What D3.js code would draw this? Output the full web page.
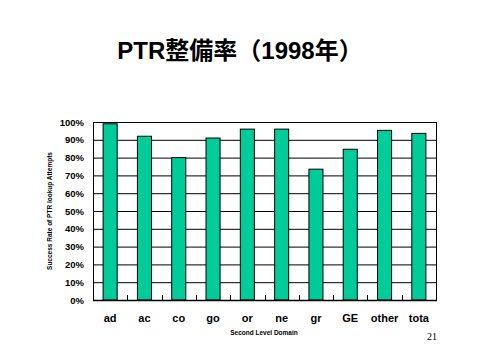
<!DOCTYPE html>
<html><head><meta charset="utf-8">
<script src="https://cdn.jsdelivr.net/npm/d3@7"></script>
<style>body{margin:0;background:#fff}</style>
</head><body>
<svg id="c" width="480" height="360"></svg>
<script>
const categories = ["ad","ac","co","go","or","ne","gr","GE","other","tota"];
const values = [0.99,0.92,0.80,0.91,0.96,0.96,0.735,0.847,0.953,0.936];
const yTicks = [0,0.1,0.2,0.3,0.4,0.5,0.6,0.7,0.8,0.9,1.0];

const svg = d3.select("#c");
svg.append("rect").attr("width",480).attr("height",360).attr("fill","#fff");
const L=93,R=436,T=122,B=300;
const x = d3.scaleBand().domain(categories).range([L,R]).paddingInner(0.59).paddingOuter(0.295);
const xb = d3.scaleBand().domain(categories).range([L,R]);
const y = d3.scaleLinear().domain([0,1]).range([B,T]);

svg.append("text").attr("x",240).attr("y",59).attr("text-anchor","middle")
  .attr("font-family","'Liberation Sans','Noto Sans CJK JP',sans-serif").attr("font-weight","bold")
  .attr("font-size",24).text("PTR整備率（1998年）");

// gridlines
svg.append("g").selectAll("line").data(yTicks).join("line")
  .attr("x1",L).attr("x2",R).attr("y1",d=>y(d)+0.5).attr("y2",d=>y(d)+0.5)
  .attr("stroke","#000").attr("stroke-width",1);
// border
svg.append("rect").attr("x",L+0.5).attr("y",T+0.5).attr("width",R-L).attr("height",B-T)
  .attr("fill","none").attr("stroke","#000").attr("stroke-width",1);

// bars
svg.append("g").selectAll("rect").data(values).join("rect")
  .attr("x",(d,i)=>x(categories[i])).attr("width",x.bandwidth())
  .attr("y",d=>y(d)).attr("height",d=>B-y(d))
  .attr("fill","#00CC99").attr("stroke","#000").attr("stroke-width",1);

// x axis with inner ticks at band boundaries
svg.append("g").selectAll("line").data(categories.slice(1)).join("line")
  .attr("x1",d=>Math.round(xb(d))+0.5).attr("x2",d=>Math.round(xb(d))+0.5)
  .attr("y1",B).attr("y2",B-5).attr("stroke","#000");
svg.append("line").attr("x1",L).attr("x2",R+1).attr("y1",B+0.5).attr("y2",B+0.5).attr("stroke","#000").attr("stroke-width",1.5);

const xAxis = d3.axisBottom(x).tickSize(0).tickPadding(0);
const gx = svg.append("g").attr("transform",`translate(0,${B})`).call(xAxis);
gx.select(".domain").remove();
gx.selectAll("text").attr("dy",null).attr("y",22).attr("font-size",11).attr("font-weight","bold")
  .attr("font-family","'Liberation Sans Narrow','Liberation Sans',sans-serif").attr("fill","#000");

const yAxis = d3.axisLeft(y).tickValues(yTicks).tickSize(0).tickPadding(0).tickFormat(d3.format(".0%"));
const gy = svg.append("g").attr("transform",`translate(84,0)`).call(yAxis);
gy.select(".domain").remove();
gy.selectAll("text").attr("font-size",9.5).attr("font-weight","bold")
  .attr("font-family","'Liberation Sans Narrow','Liberation Sans',sans-serif").attr("fill","#000");

svg.append("text").attr("transform","translate(52,211) rotate(-90)").attr("text-anchor","middle")
  .attr("font-family","'Liberation Sans Narrow','Liberation Sans',sans-serif").attr("font-weight","bold")
  .attr("font-size",6.5).text("Success Rate of PTR lookup Attempts");
svg.append("text").attr("x",264).attr("y",335).attr("text-anchor","middle")
  .attr("font-family","'Liberation Sans Narrow','Liberation Sans',sans-serif").attr("font-weight","bold")
  .attr("font-size",6.5).text("Second Level Domain");
svg.append("text").attr("x",437).attr("y",340).attr("text-anchor","end")
  .attr("font-family","'Liberation Serif',serif").attr("font-size",10).text("21");
</script>
</body></html>
